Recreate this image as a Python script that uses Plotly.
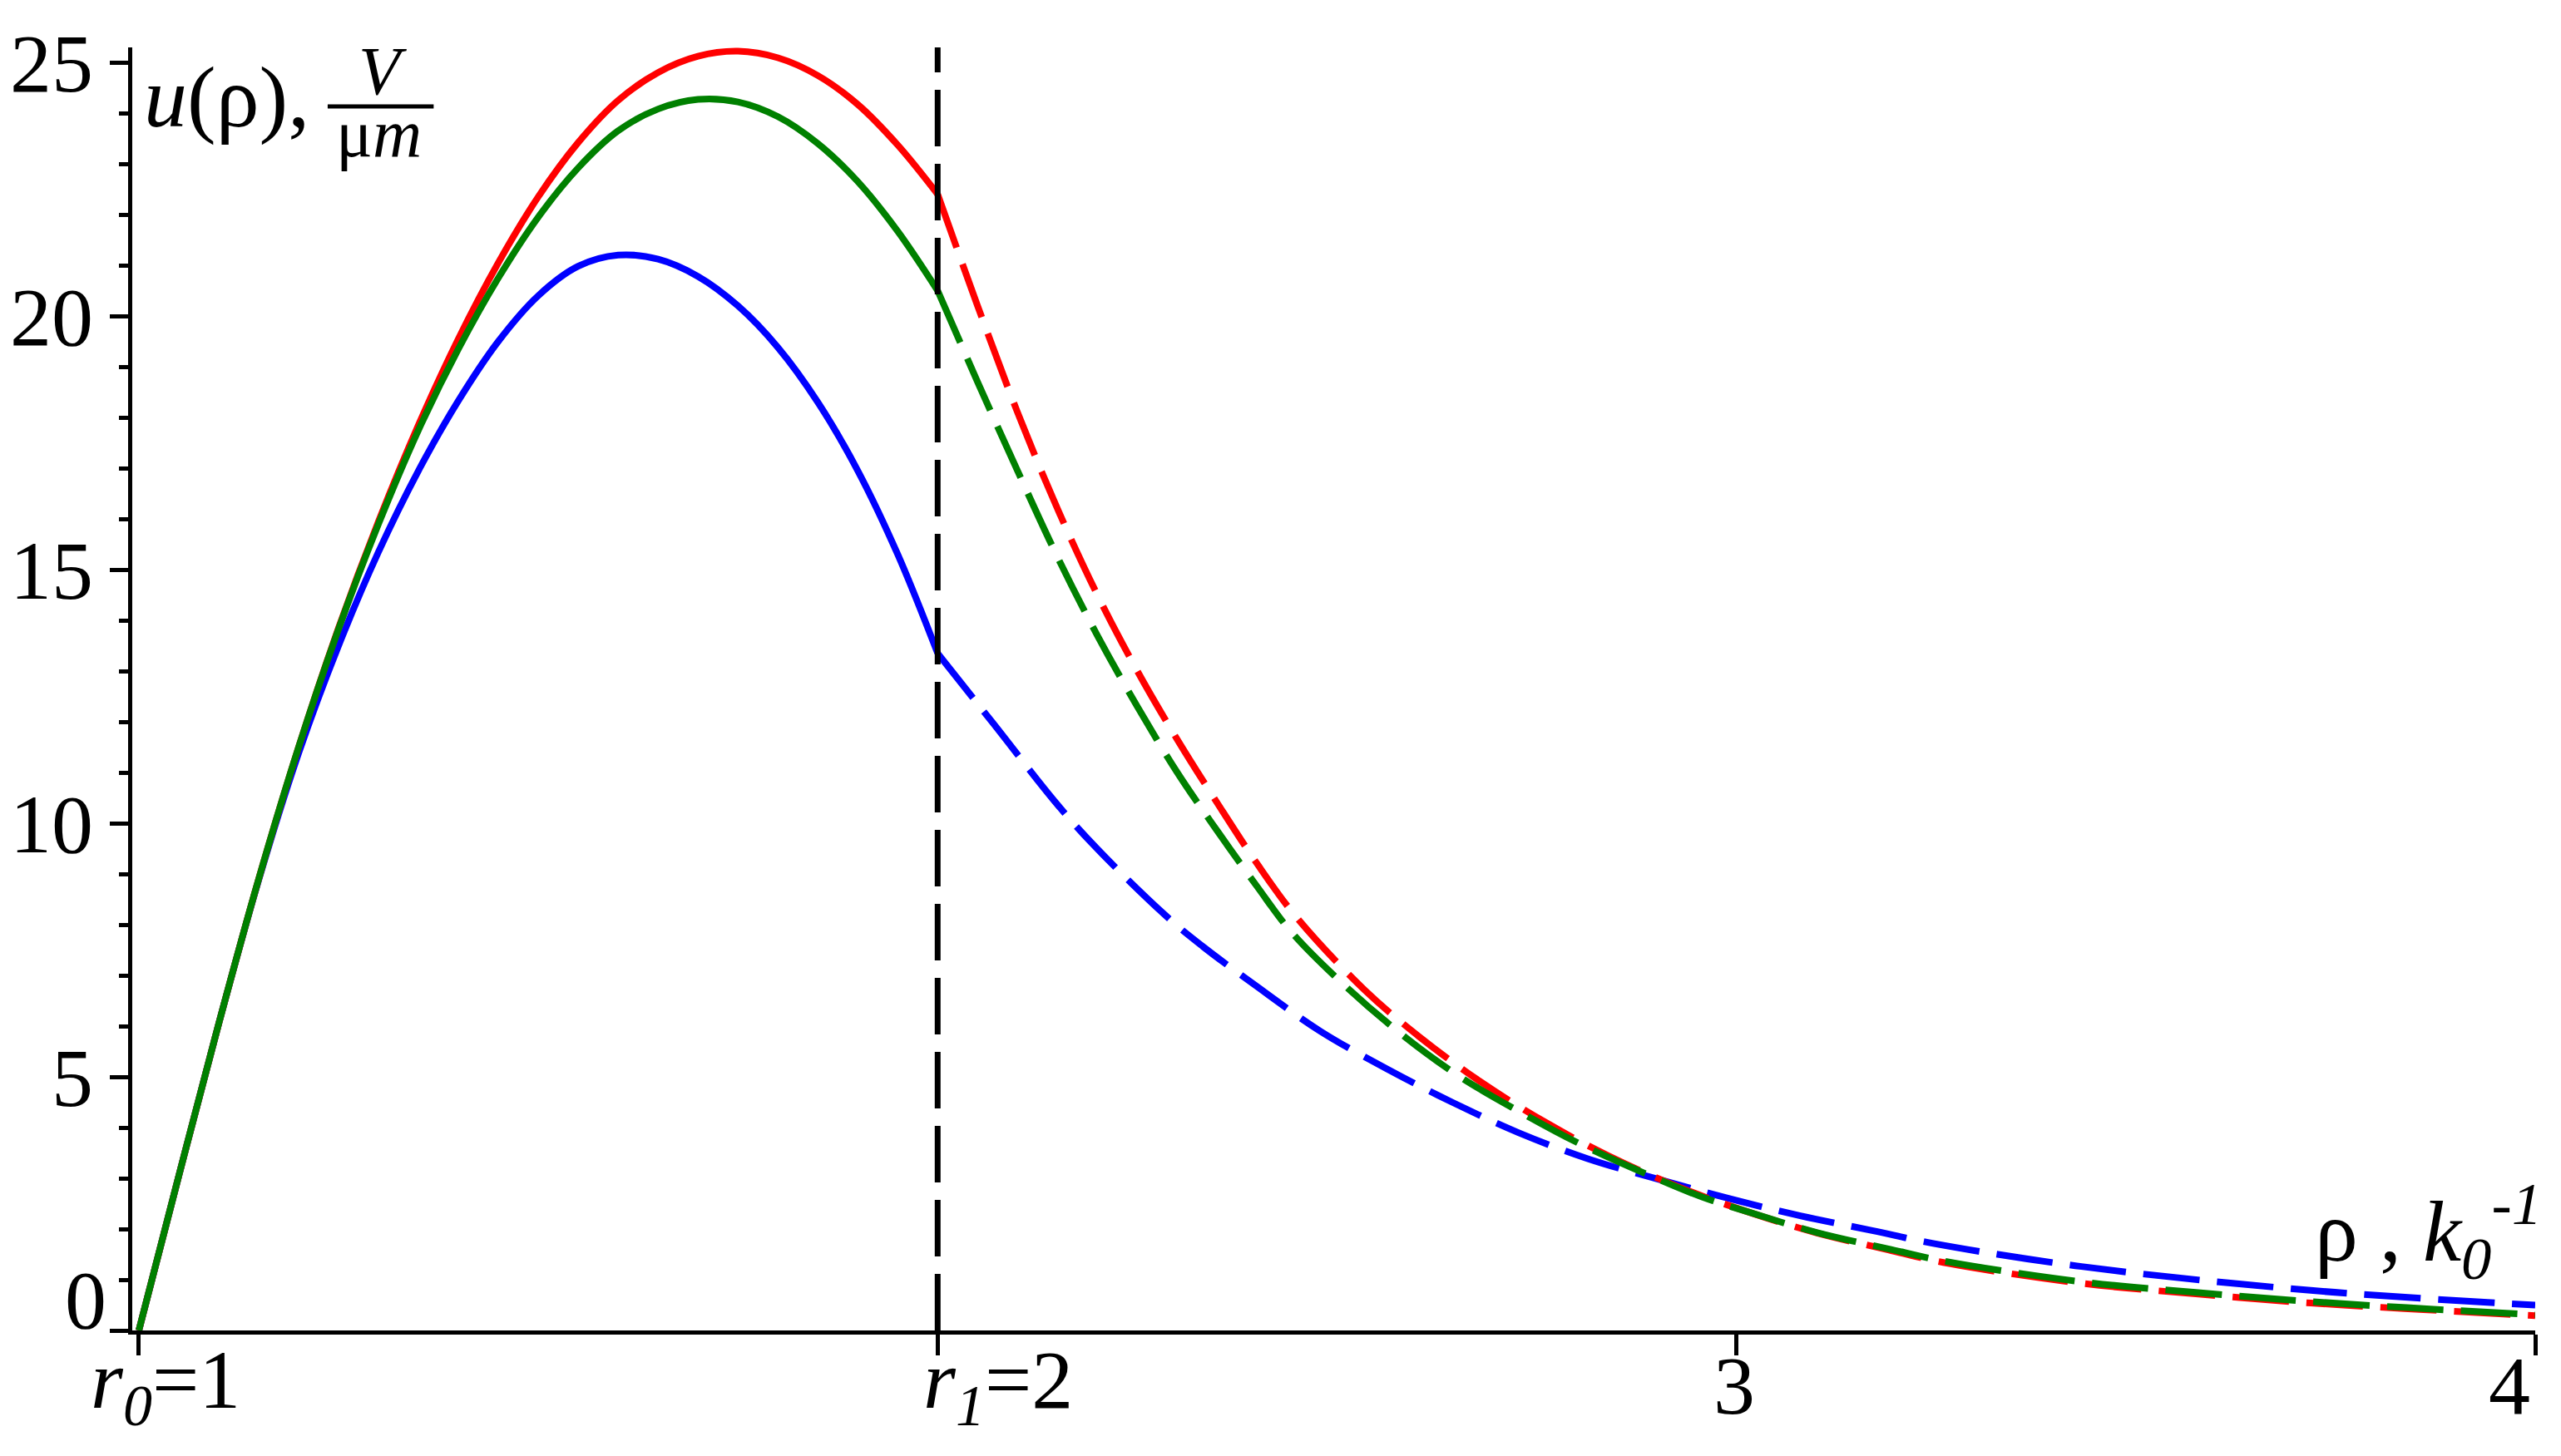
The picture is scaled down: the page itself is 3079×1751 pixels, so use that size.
import plotly.graph_objects as go

# ---------------- data ----------------
# solid part, r0 <= rho <= r1
rho_in = [1.0, 1.05, 1.10, 1.15, 1.20, 1.25, 1.30, 1.35, 1.40, 1.45, 1.50, 1.55, 1.60, 1.65, 1.70, 1.75, 1.80, 1.85, 1.90, 1.95, 2.0]
u_red_in   = [0.0, 3.05, 6.05, 8.9, 11.5, 13.85, 15.95, 17.85, 19.55, 21.05, 22.35, 23.42, 24.25, 24.8, 25.12, 25.22, 25.09, 24.74, 24.17, 23.37, 22.4]
u_green_in = [0.0, 3.05, 6.05, 8.9, 11.5, 13.83, 15.9, 17.75, 19.35, 20.75, 21.95, 22.92, 23.65, 24.08, 24.27, 24.22, 23.93, 23.4, 22.65, 21.67, 20.5]
u_blue_in  = [0.0, 3.05, 6.05, 8.88, 11.38, 13.5, 15.35, 16.95, 18.33, 19.5, 20.4, 20.98, 21.2, 21.12, 20.78, 20.2, 19.38, 18.3, 16.95, 15.3, 13.35]

# dashed part, r1 <= rho <= 4
rho_red_out = [2.0, 2.05, 2.1, 2.15, 2.2, 2.25, 2.3, 2.35, 2.4, 2.449, 2.534, 2.603, 2.678, 2.758, 2.84, 2.929, 3.012, 3.101, 3.19, 3.259, 3.432, 3.575, 3.719, 3.86, 4.0]
u_red_out   = [22.4, 20.2, 18.1, 16.2, 14.5, 13.0, 11.65, 10.4, 9.2, 8.15, 6.72, 5.79, 4.92, 4.13, 3.44, 2.82, 2.35, 1.92, 1.59, 1.34, 0.93, 0.72, 0.54, 0.41, 0.29]

rho_green_out = [2.0, 2.05, 2.1, 2.15, 2.2, 2.25, 2.3, 2.35, 2.4, 2.442, 2.507, 2.576, 2.651, 2.73, 2.809, 2.895, 2.957, 3.012, 3.101, 3.19, 3.259, 3.432, 3.575, 3.719, 3.86, 4.0]
u_green_out   = [20.5, 18.7, 16.95, 15.25, 13.7, 12.3, 11.0, 9.85, 8.75, 7.87, 6.84, 5.9, 5.03, 4.3, 3.64, 3.03, 2.63, 2.35, 1.93, 1.61, 1.37, 0.96, 0.75, 0.57, 0.43, 0.31]

rho_blue_out = [2.0, 2.068, 2.17, 2.284, 2.332, 2.405, 2.479, 2.562, 2.644, 2.727, 2.813, 2.902, 2.991, 3.08, 3.17, 3.245, 3.432, 3.719, 4.0]
u_blue_out   = [13.35, 12.0, 10.0, 8.2, 7.57, 6.72, 5.9, 5.16, 4.5, 3.9, 3.39, 2.98, 2.6, 2.26, 1.97, 1.72, 1.26, 0.79, 0.5]

r0 = 1
r1 = 2
x_ticks = [1, 2, 3, 4]
x_tick_labels = ["<i>r</i><sub><i>0</i></sub>=1", "<i>r</i><sub><i>1</i></sub>=2", "3", "4"]
y_ticks = [0, 5, 10, 15, 20, 25]
y_tick_labels = ["0", "5", "10", "15", "20", "25"]

X_MIN, X_MAX = 0.99171, 4.0
Y_MIN, Y_MAX = 0.0, 25.295

# ---------------- layout geometry (pixels) ----------------
W, H = 3079, 1751
L, R, T, B = 146, 3048, 57, 1600
FONT = "Liberation Serif"

def px(xp):
    return (xp - L) / (R - L)

def py(yp):
    return (B - yp) / (B - T)

RED, GREEN, BLUE = "#ff0000", "#008000", "#0000ff"
LW = 8
DASH = "68px,21px"

fig = go.Figure()
for ys, c in [(u_blue_in, BLUE), (u_red_in, RED), (u_green_in, GREEN)]:
    fig.add_trace(go.Scatter(x=rho_in, y=ys, mode="lines", line=dict(color=c, width=LW, shape="spline", smoothing=1.0),
                             showlegend=False, hoverinfo="skip"))
for xs, ys, c in [(rho_blue_out, u_blue_out, BLUE), (rho_red_out, u_red_out, RED), (rho_green_out, u_green_out, GREEN)]:
    fig.add_trace(go.Scatter(x=xs, y=ys, mode="lines", line=dict(color=c, width=LW, shape="spline", smoothing=1.0, dash=DASH),
                             showlegend=False, hoverinfo="skip"))
# vertical boundary rho = r1
fig.add_trace(go.Scatter(x=[r1, r1], y=[Y_MIN, Y_MAX], mode="lines", line=dict(color="black", width=7, dash=DASH),
                         showlegend=False, hoverinfo="skip"))

fig.update_layout(
    width=W, height=H,
    margin=dict(l=L, r=W - R, t=T, b=H - B, pad=0),
    paper_bgcolor="white", plot_bgcolor="white",
    showlegend=False,
    xaxis=dict(range=[X_MIN, X_MAX], showgrid=False, zeroline=False, showline=True, linecolor="black", linewidth=5,
               ticks="outside", tickvals=x_ticks, ticklen=25, tickwidth=5, tickcolor="black", showticklabels=False),
    yaxis=dict(range=[Y_MIN, Y_MAX], showgrid=False, zeroline=False, showline=True, linecolor="black", linewidth=5,
               ticks="outside", tickvals=y_ticks, ticktext=[""] + y_tick_labels[1:], ticklen=22, tickwidth=5, tickcolor="black",
               tickfont=dict(family=FONT, size=100, color="black"), ticklabelstandoff=0,
               minor=dict(ticks="outside", dtick=1, tick0=0, ticklen=11, tickwidth=5, tickcolor="black", showgrid=False)),
)

ann = []
# x tick labels
x_shifts = [32, 73, -3, -31]
for v, t, s in zip(x_ticks, x_tick_labels, x_shifts):
    ann.append(dict(x=v, xref="x", y=py(1666), yref="paper", text=t, showarrow=False, xanchor="center", yanchor="middle",
                    xshift=s, font=dict(family=FONT, size=100, color="black")))
# y tick label 0 (sits above the x-axis)
ann.append(dict(x=px(117), xref="paper", y=py(1563), yref="paper", text=y_tick_labels[0], showarrow=False,
                xanchor="right", yanchor="middle", font=dict(family=FONT, size=100, color="black")))
# x-axis title
ann.append(dict(x=px(3058), xref="paper", y=py(1480), yref="paper",
                text="ρ , <i>k</i><sub><i>0</i></sub><sup><i>-1</i></sup>", showarrow=False,
                xanchor="right", yanchor="middle", font=dict(family=FONT, size=104, color="black")))
# y-axis title: u(rho), V / (mu m)
ann.append(dict(x=px(158), xref="paper", y=py(117), yref="paper", text="<i>u</i>(ρ),", showarrow=False,
                xanchor="left", yanchor="middle", font=dict(family=FONT, size=104, color="black")))
ann.append(dict(x=px(448), xref="paper", y=py(86), yref="paper", text="<i>V</i>", showarrow=False,
                xanchor="center", yanchor="middle", font=dict(family=FONT, size=82, color="black")))
ann.append(dict(x=px(444), xref="paper", y=py(160), yref="paper", text="μ<i>m</i>", showarrow=False,
                xanchor="center", yanchor="middle", font=dict(family=FONT, size=82, color="black")))
fig.update_layout(annotations=ann)
fig.add_shape(type="line", xref="paper", yref="paper", x0=px(382), x1=px(510), y0=py(128), y1=py(128),
              line=dict(color="black", width=5))

fig.write_html("out.html", include_plotlyjs=True, config={"displayModeBar": False},
               post_script="document.body.style.margin='0';document.body.style.overflow='hidden';")
